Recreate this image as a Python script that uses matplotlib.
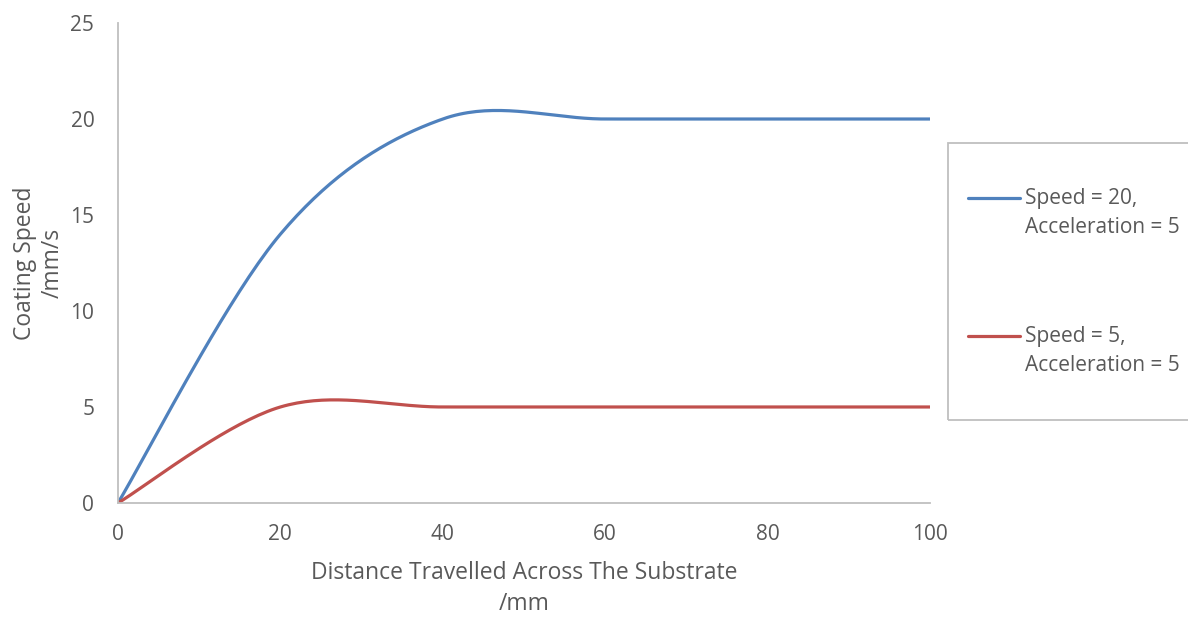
import numpy as np
import matplotlib
matplotlib.use("Agg")
import matplotlib.pyplot as plt
from matplotlib.lines import Line2D
from matplotlib.patches import Rectangle

# data (points joined by Excel-style smoothed lines)
distance = [0, 20, 40, 60, 80, 100]
speed_20 = [0, 14, 20, 20, 20, 20]
speed_5 = [0, 5, 5, 5, 5, 5]
series_names = ["Speed = 20,\nAcceleration = 5", "Speed = 5,\nAcceleration = 5"]
series_colors = ["#4F81BD", "#C0504D"]

x_ticks = [0, 20, 40, 60, 80, 100]
y_ticks = [0, 5, 10, 15, 20, 25]

plt.rcParams['font.family'] = ['Open Sans', 'DejaVu Sans']
text_color = "#595959"


def smooth(xs, ys, n=40):
    '''Bezier smoothing like Excel's smoothed line'''
    p = np.column_stack([xs, ys]).astype(float)
    out = []
    for i in range(len(p) - 1):
        p0 = p[i - 1] if i > 0 else p[i]
        p1 = p[i]
        p2 = p[i + 1]
        p3 = p[i + 2] if i + 2 < len(p) else p[i + 1]
        c1 = p1 + (p2 - p0) / 6
        c2 = p2 - (p3 - p1) / 6
        t = np.linspace(0, 1, n)[:, None]
        seg = ((1 - t) ** 3) * p1 + 3 * ((1 - t) ** 2) * t * c1 + 3 * (1 - t) * t ** 2 * c2 + t ** 3 * p2
        out.append(seg if i == 0 else seg[1:])
    out = np.vstack(out)
    return out[:, 0], out[:, 1]


fig = plt.figure(figsize=(11.88, 6.17), dpi=100)
ax = fig.add_axes([0.0993, 0.1848, 0.6835, 0.7779])

for ys, c in zip([speed_20, speed_5], series_colors):
    sx, sy = smooth(distance, ys)
    ax.plot(sx, sy, color=c, lw=2.3, solid_capstyle='round')

ax.set_xlim(0, 100)
ax.set_ylim(0, 25)
ax.set_xticks(x_ticks)
ax.set_yticks(y_ticks)
ax.tick_params(length=0, labelsize=15, colors=text_color)
ax.tick_params(axis='x', pad=15)
ax.tick_params(axis='y', pad=17)
for s in ['top', 'right']:
    ax.spines[s].set_visible(False)
for s in ['left', 'bottom']:
    ax.spines[s].set_color("#BFBFBF")
    ax.spines[s].set_linewidth(1.3)

ax.set_xlabel("Distance Travelled Across The Substrate\n/mm", fontsize=16.5, color=text_color, labelpad=12, linespacing=1.35)
ax.set_ylabel("Coating Speed\n/mm/s", fontsize=16.5, color=text_color, labelpad=4, linespacing=1.2)

# legend box running off the right edge
fig.add_artist(Rectangle((948 / 1188, 1 - 420 / 617), 0.3, (420 - 143) / 617,
                         transform=fig.transFigure, fill=False, edgecolor="#BFBFBF", lw=1.3))
for i, (name, c) in enumerate(zip(series_names, series_colors)):
    y0 = 1 - (198 + i * 138) / 617
    fig.add_artist(Line2D([968 / 1188, 1020 / 1188], [y0, y0], color=c, lw=2.3,
                          transform=fig.transFigure, solid_capstyle='round'))
    fig.text(1025 / 1188, y0 + 10 / 617, name, fontsize=15, color=text_color, va='top',
             linespacing=1.5, transform=fig.transFigure)

fig.savefig("out.png", dpi=100)
